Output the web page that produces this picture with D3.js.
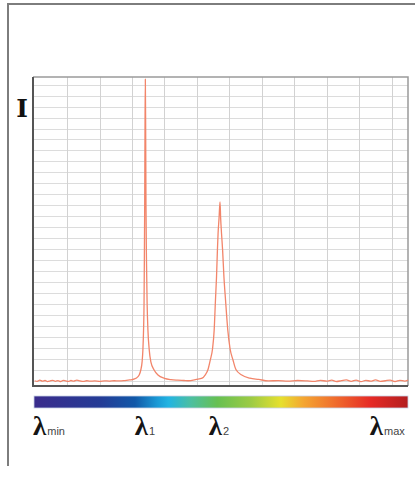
<!DOCTYPE html>
<html>
<head>
<meta charset="utf-8">
<script src="https://cdn.jsdelivr.net/npm/d3@7"></script>
<style>
  html, body { margin: 0; padding: 0; background: #fff; }
  svg { display: block; }
  .grid-v line { stroke: #d2d2d2; stroke-width: 1; }
  .grid-h line { stroke: #dcdcdc; stroke-width: 1; }
  .spectrum { fill: none; stroke: #f2856a; stroke-width: 1.3; stroke-linejoin: round; }
  .lam { font-family: "Liberation Serif", "DejaVu Serif", serif; font-size: 27px; font-weight: bold; fill: #151515; }
  .lam-sub { font-family: "Liberation Sans", Arial, sans-serif; font-size: 11px; fill: #444; }
</style>
</head>
<body>
<div id="chart"></div>
<script>
// wavelength axis in arbitrary channel units, intensity in relative units
const xGridTicks = [100, 200, 300, 400, 500, 600, 700, 800, 900, 1000, 1100];
const yGridTicks = d3.range(0, 2701, 100);

const spectrumX = [
  0, 8, 16, 24, 32, 40, 48, 56, 64, 72, 80, 88, 96, 104, 112, 120, 130, 140, 150, 160,
  170, 185, 200, 215, 230, 245, 260, 275, 288, 300, 312, 322, 327, 331, 333.5, 335.5, 337, 338, 339, 340,
  341, 342, 343, 344.5, 346.5, 349, 353, 358, 368, 380, 400, 420, 440, 460,
  473, 498, 516, 525, 534, 541, 548, 553, 557, 560.3, 563, 565, 568,
  571, 573, 575.7, 579, 583, 588, 595, 602, 611, 620, 638, 663, 690, 720, 750, 780, 810,
  840, 860, 880, 900, 915, 930, 945, 960, 975, 990, 1005, 1020, 1035, 1050, 1065, 1080,
  1095, 1110, 1125, 1140, 1150,
];
const spectrumI = [
  -2, -8, 3, -6, 0, -10, -3, 2, -7, -1, -9, 1, -4, -8, 0, -5, 4, -3, -8, -2,
  -6, -4, -7, -3, -5, -2, -4, -1, 4, 8, 20, 50, 96, 170, 280, 460, 700, 1100, 1600, 2300, 2750,
  2300, 1600, 1100, 700, 460, 280, 170, 96, 50, 20, 8, 3, 0, -2,
  10, 22, 50, 100, 187, 290, 460, 735, 950, 1190, 1340, 1480, 1630,
  1480, 1340, 1190, 950, 735, 460, 290, 187, 100, 50, 22, 10, -3, -1, -5, 0, -4,
  -8, 2, -6, 4, -9, -1, 6, -7, 3, -10, 1, -5, 5, -8, -2, 4, -9,
  2, -6, 3, -4, -1,
];

const barStops = [
  { offset: 0.0, color: "#3a2c8c" },
  { offset: 0.18, color: "#243c96" },
  { offset: 0.27, color: "#1158a8" },
  { offset: 0.33, color: "#1a9ad6" },
  { offset: 0.36, color: "#22b4e2" },
  { offset: 0.42, color: "#4cbfa0" },
  { offset: 0.49, color: "#66c052" },
  { offset: 0.58, color: "#9ccb44" },
  { offset: 0.66, color: "#e6e02e" },
  { offset: 0.72, color: "#f4a632" },
  { offset: 0.8, color: "#f0702e" },
  { offset: 0.9, color: "#e62a26" },
  { offset: 1.0, color: "#b31e20" },
];

const lambdaLabels = [
  { sub: "min", x: -5, anchor: "start" },
  { sub: "1", x: 340, anchor: "middle" },
  { sub: "2", x: 568, anchor: "middle" },
  { sub: "max", x: 1140, anchor: "end" },
];

const width = 415;
const height = 481;
const plot = { left: 33, top: 77, right: 408, bottom: 386 };

const x = d3.scaleLinear().domain([-5, 1150]).range([plot.left, plot.right]);
const y = d3.scaleLinear().domain([-50, 2770]).range([plot.bottom, plot.top]);

const svg = d3.select("#chart")
  .append("svg")
  .attr("width", width)
  .attr("height", height);

// outer frame (top and left only)
svg.append("path")
  .attr("d", `M8,466 V4 H${width}`)
  .attr("fill", "none")
  .attr("stroke", "#7d7d7d")
  .attr("stroke-width", 2);

// grid
svg.append("g")
  .attr("class", "grid-h")
  .selectAll("line")
  .data(yGridTicks)
  .join("line")
  .attr("x1", plot.left)
  .attr("x2", plot.right)
  .attr("y1", (d) => Math.round(y(d)) + 0.5)
  .attr("y2", (d) => Math.round(y(d)) + 0.5);

svg.append("g")
  .attr("class", "grid-v")
  .selectAll("line")
  .data(xGridTicks)
  .join("line")
  .attr("y1", plot.top)
  .attr("y2", plot.bottom)
  .attr("x1", (d) => Math.round(x(d)) + 0.5)
  .attr("x2", (d) => Math.round(x(d)) + 0.5);

// plot border
svg.append("path")
  .attr("d", `M${plot.left},${plot.top} H${plot.right} V${plot.bottom}`)
  .attr("fill", "none")
  .attr("stroke", "#9a9a9a")
  .attr("stroke-width", 1.5);
svg.append("path")
  .attr("d", `M${plot.left},${plot.top} V${plot.bottom} H${plot.right}`)
  .attr("fill", "none")
  .attr("stroke", "#555")
  .attr("stroke-width", 2);

// spectrum
const points = spectrumX.map((d, i) => [d, spectrumI[i]]);
const line = d3.line()
  .x((d) => x(d[0]))
  .y((d) => y(d[1]))
  .curve(d3.curveMonotoneX);

svg.append("path")
  .attr("class", "spectrum")
  .attr("d", line(points));

// intensity label
svg.append("text")
  .attr("x", 22)
  .attr("y", 117)
  .attr("text-anchor", "middle")
  .attr("font-family", "DejaVu Serif, serif")
  .attr("font-weight", "bold")
  .attr("font-size", 25)
  .attr("fill", "#111")
  .text("I");

// colour bar
const grad = svg.append("defs")
  .append("linearGradient")
  .attr("id", "spectrum-bar")
  .attr("x1", "0%")
  .attr("x2", "100%");
grad.selectAll("stop")
  .data(barStops)
  .join("stop")
  .attr("offset", (d) => d.offset)
  .attr("stop-color", (d) => d.color);

svg.append("rect")
  .attr("x", plot.left + 1)
  .attr("y", 396)
  .attr("width", plot.right - plot.left - 1)
  .attr("height", 12)
  .attr("fill", "url(#spectrum-bar)")
  .attr("stroke", "#c9d3e6")
  .attr("stroke-width", 0.8);

// lambda labels
const labels = svg.append("g")
  .selectAll("text")
  .data(lambdaLabels)
  .join("text")
  .attr("x", (d) => x(d.x))
  .attr("y", 435)
  .attr("text-anchor", (d) => d.anchor);
labels.append("tspan")
  .attr("class", "lam")
  .text("λ");
labels.append("tspan")
  .attr("class", "lam-sub")
  .attr("dx", 1)
  .text((d) => d.sub);
</script>
</body>
</html>
